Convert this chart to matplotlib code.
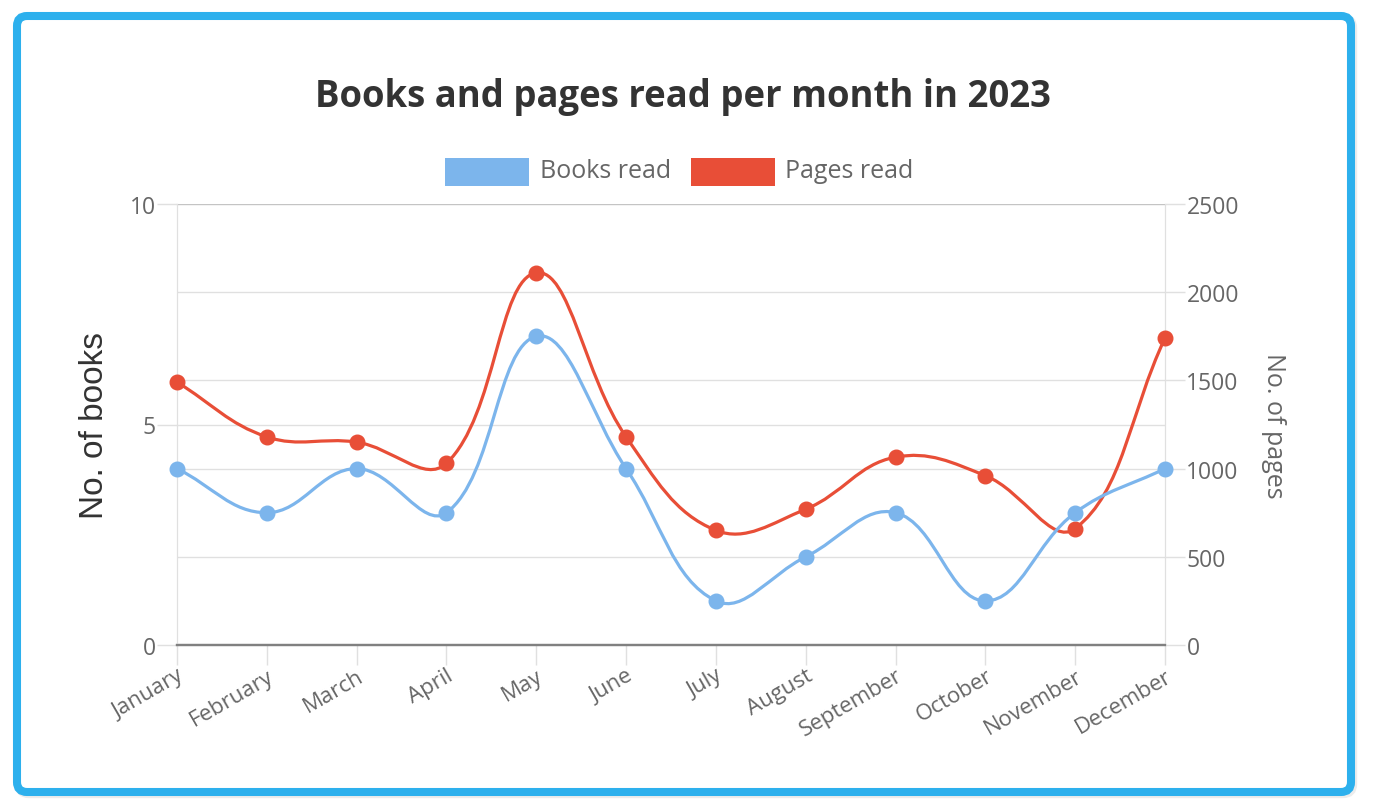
"""Books and pages read per month in 2023, drawn as a Chart.js-style dual axis line chart."""

import numpy as np
import matplotlib

matplotlib.use("Agg")
import matplotlib.pyplot as plt
from matplotlib.path import Path
from matplotlib.patches import PathPatch, FancyBboxPatch, Rectangle

months = ["January", "February", "March", "April", "May", "June", "July",
          "August", "September", "October", "November", "December"]
books_read = [4, 3, 4, 3, 7, 4, 1, 2, 3, 1, 3, 4]
pages_read = [1490, 1180, 1150, 1030, 2110, 1180, 650, 770, 1065, 960, 660, 1740]
books_ticks = [0, 5, 10]
pages_ticks = [0, 500, 1000, 1500, 2000, 2500]

BLUE = "#7cb5ec"
RED = "#e84e37"
FRAME = "#2db0ed"
TICK_TXT = "#666666"
W, H, DPI = 1378, 812, 100
FONT = "Open Sans"


def inch(x, y):
    """Pixel position (top-left origin) to figure inches."""
    return x / DPI, (H - y) / DPI


def spline_path(data_trans, xs, ys, tension=0.4):
    """Chart.js style spline through the points, built in display space."""
    pts = data_trans.transform(np.column_stack([xs, ys]))
    n = len(pts)
    before = pts.copy()
    after = pts.copy()
    for i in range(n):
        prev = pts[max(i - 1, 0)]
        cur = pts[i]
        nxt = pts[min(i + 1, n - 1)]
        d01 = np.hypot(*(cur - prev))
        d12 = np.hypot(*(nxt - cur))
        total = d01 + d12
        s01 = d01 / total if total else 0.0
        s12 = d12 / total if total else 0.0
        before[i] = cur - tension * s01 * (nxt - prev)
        after[i] = cur + tension * s12 * (nxt - prev)
    verts = [pts[0]]
    codes = [Path.MOVETO]
    for i in range(n - 1):
        verts += [after[i], before[i + 1], pts[i + 1]]
        codes += [Path.CURVE4] * 3
    verts = data_trans.inverted().transform(np.array(verts))
    return Path(verts, codes)


fig = plt.figure(figsize=(W / DPI, H / DPI), dpi=DPI)
fig.patch.set_facecolor("white")

# rounded frame round the whole card
x0, y0 = inch(17, 793)
x1, y1 = inch(1351, 17)
shadow = FancyBboxPatch((x0 + 0.02, y0 - 0.02), x1 - x0, y1 - y0,
                        boxstyle="round,pad=0,rounding_size=0.1",
                        transform=fig.dpi_scale_trans, lw=6, ec="#ececec",
                        fc="none", zorder=-11)
fig.add_artist(shadow)
frame = FancyBboxPatch((x0, y0), x1 - x0, y1 - y0,
                       boxstyle="round,pad=0,rounding_size=0.1",
                       transform=fig.dpi_scale_trans, lw=5.8, ec=FRAME,
                       fc="white", zorder=-10)
fig.add_artist(frame)

left, right, top, bottom = 177, 1165, 205, 646
ax = fig.add_axes([left / W, 1 - bottom / H, (right - left) / W, (bottom - top) / H])
ax2 = ax.twinx()

x = np.arange(len(months))
ax.set_xlim(0, len(months) - 1)
ax.set_ylim(books_ticks[0], books_ticks[-1])
ax2.set_ylim(pages_ticks[0], pages_ticks[-1])

ax.set_yticks(books_ticks)
ax2.set_yticks(pages_ticks)
ax.set_xticks(x)
ax.set_xticklabels(months, rotation=30, ha="right", va="top",
                   rotation_mode="anchor", fontsize=16, color=TICK_TXT, family=FONT)
ax.set_yticklabels([str(v) for v in books_ticks], fontsize=16.5, color=TICK_TXT, family=FONT)
ax2.set_yticklabels([str(v) for v in pages_ticks], fontsize=16.5, color=TICK_TXT, family=FONT)

ax.tick_params(axis="x", length=14.4, width=1, color="#e0e0e0", pad=0)
ax.tick_params(axis="y", length=14.4, width=1, color="#e0e0e0", pad=1)
ax2.tick_params(axis="y", length=14.4, width=1, color="#e0e0e0", pad=1)

ax.grid(axis="y", color="black", alpha=0.12, lw=1)
ax2.grid(axis="y", color="black", alpha=0.12, lw=1)
ax.set_axisbelow(True)

for a in (ax, ax2):
    a.spines["top"].set_visible(False)
    a.spines["left"].set_color("#e0e0e0")
    a.spines["right"].set_color("#e0e0e0")
    a.spines["bottom"].set_color("#808080")
    a.spines["bottom"].set_linewidth(1.6)

fig.canvas.draw()

# pages first, books drawn last so it sits on top
red_path = spline_path(ax2.transData, x, pages_read)
ax2.add_patch(PathPatch(red_path, fc="none", ec=RED, lw=2.3, zorder=3,
                        transform=ax2.transData))
ax2.plot(x, pages_read, "o", ms=10.5, color=RED, zorder=4, clip_on=False)

blue_path = spline_path(ax.transData, x, books_read)
ax2.add_patch(PathPatch(blue_path, fc="none", ec=BLUE, lw=2.3, zorder=5,
                        transform=ax.transData))
ax2.plot(x, books_read, "o", ms=10.5, color=BLUE, zorder=6, clip_on=False,
         transform=ax.transData)

ax.set_ylabel("No. of books", fontsize=24, color="#333333", family="Liberation Sans",
              labelpad=14)
ax2.set_ylabel("No. of pages", fontsize=18, color=TICK_TXT, family=FONT,
               rotation=-90, labelpad=34)

fig.text(683 / W, 1 - 97 / H, "Books and pages read per month in 2023",
         ha="center", va="center", fontsize=26.3, fontweight="bold",
         color="#333333", family=FONT)

# legend boxes and labels
for (bx, tx, color, label) in [(445, 540, BLUE, "Books read"), (691, 785, RED, "Pages read")]:
    rx, ry = inch(bx, 187)
    fig.add_artist(Rectangle((rx, ry), 84 / DPI, 28 / DPI, transform=fig.dpi_scale_trans,
                             fc=color, ec="none"))
    lx, ly = inch(tx, 172)
    fig.text(lx, ly, label, transform=fig.dpi_scale_trans, ha="left", va="center",
             fontsize=18, color=TICK_TXT, family=FONT)

fig.savefig("out.png", dpi=DPI, facecolor="white")
